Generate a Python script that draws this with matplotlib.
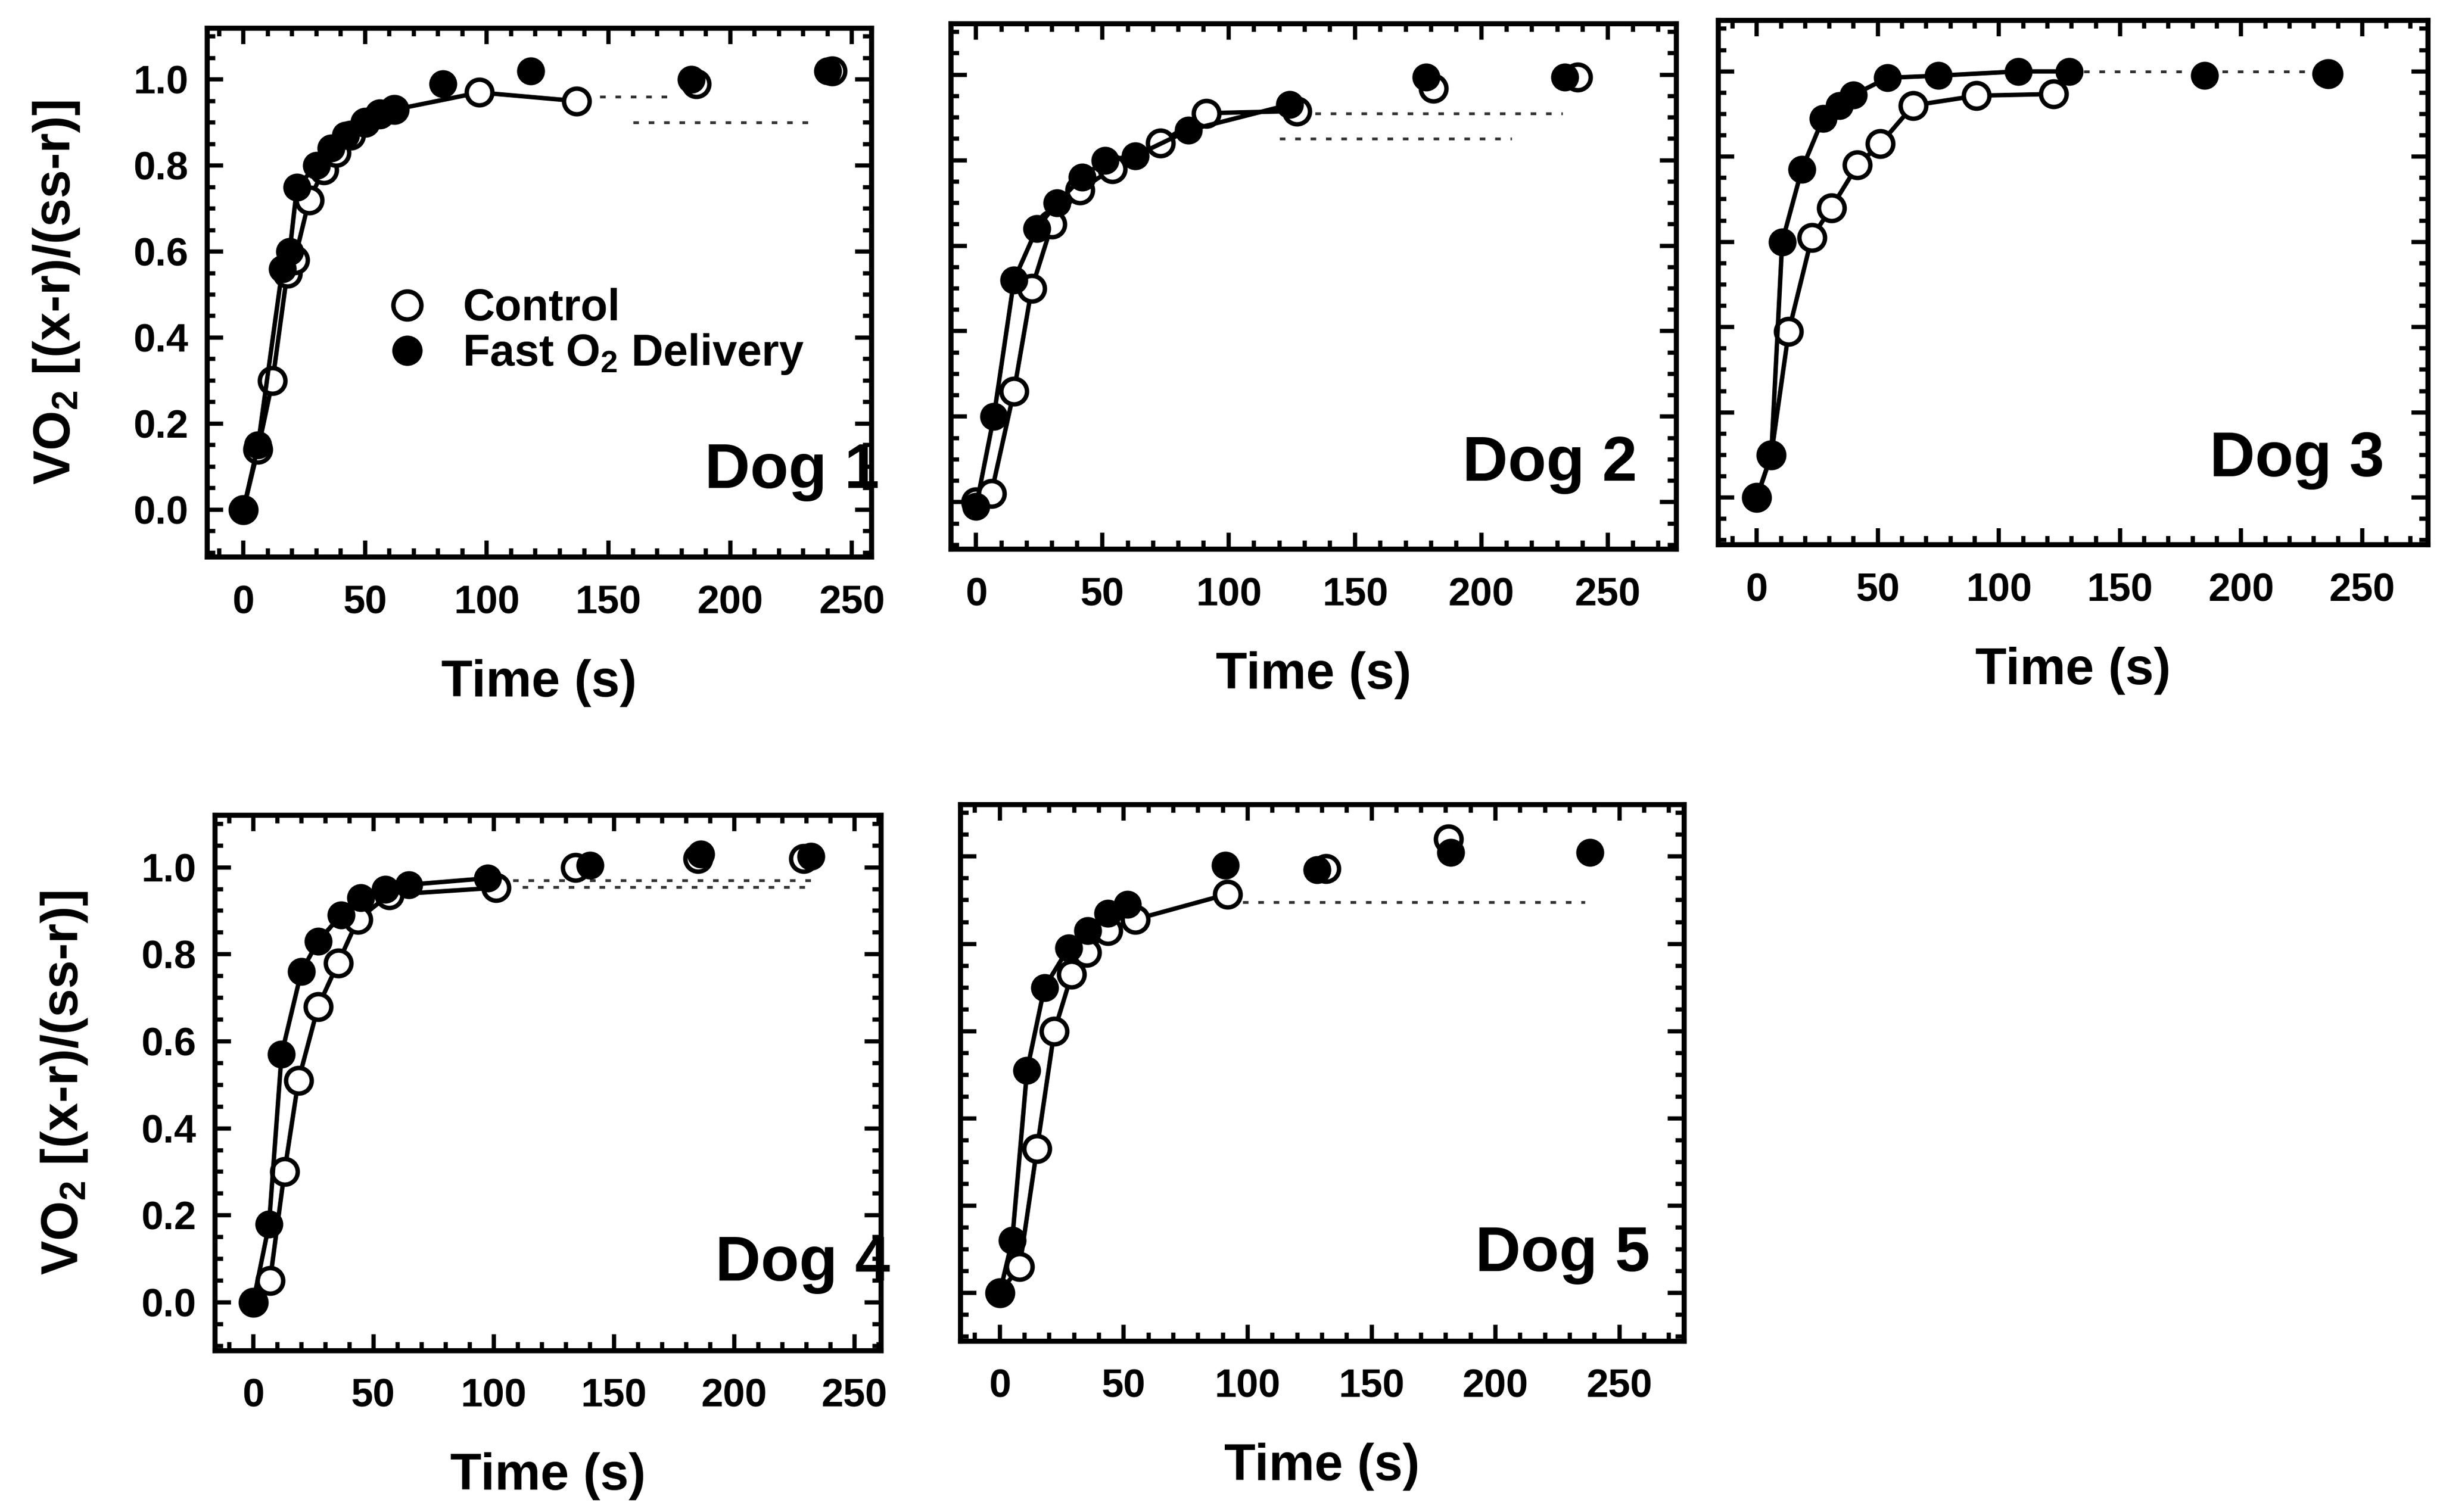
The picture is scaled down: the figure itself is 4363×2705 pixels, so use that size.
"""VO2 on-kinetics for five dogs: control vs fast O2 delivery."""

import matplotlib

matplotlib.use("Agg")
import matplotlib.pyplot as plt
from matplotlib.lines import Line2D
from matplotlib.ticker import MultipleLocator

plt.rcParams["font.family"] = ["Liberation Sans", "DejaVu Sans"]
plt.rcParams["font.weight"] = "bold"
plt.rcParams["mathtext.fontset"] = "custom"
plt.rcParams["mathtext.rm"] = "Liberation Sans:bold"
plt.rcParams["mathtext.it"] = "Liberation Sans:bold"
plt.rcParams["mathtext.bf"] = "Liberation Sans:bold"

DOG_NAMES = ["Dog 1", "Dog 2", "Dog 3", "Dog 4", "Dog 5"]

# Fast O2 delivery, points joined by the line
FAST_T = [
    [0, 6, 16, 19, 22, 30, 36, 42, 50, 56, 62],
    [0, 7, 15, 24, 32, 42, 51, 63, 84, 124],
    [0, 6, 10.5, 18.6, 27.4, 34, 40, 54, 75, 108, 129],
    [0, 6.6, 11.8, 20, 27, 36.5, 44.7, 55, 64.7, 97.6],
    [0, 5, 11, 18, 27.7, 35.4, 43.5, 51.6],
]
FAST_Y = [
    [0.0, 0.15, 0.56, 0.60, 0.75, 0.80, 0.84, 0.87, 0.90, 0.92, 0.93],
    [-0.01, 0.20, 0.52, 0.64, 0.70, 0.76, 0.80, 0.81, 0.87, 0.93],
    [0.0, 0.10, 0.60, 0.77, 0.89, 0.92, 0.945, 0.985, 0.99, 1.0, 1.0],
    [0.0, 0.18, 0.57, 0.76, 0.83, 0.89, 0.93, 0.95, 0.96, 0.975],
    [0.0, 0.12, 0.51, 0.70, 0.79, 0.83, 0.87, 0.89],
]
# Fast O2 delivery, isolated late points
FAST_LATE_T = [
    [82, 118, 184, 240],
    [178, 233],
    [185, 235],
    [140, 186, 232],
    [91, 128, 182, 238],
]
FAST_LATE_Y = [
    [0.99, 1.02, 1.00, 1.02],
    [0.995, 0.995],
    [0.99, 0.995],
    [1.005, 1.03, 1.025],
    [0.98, 0.97, 1.01, 1.01],
]
# Control, points joined by the line
CTRL_T = [
    [0, 6, 12, 18, 21, 27, 33, 38, 44, 50, 56, 62, 97, 137],
    [0, 6, 15, 22, 30, 41, 54, 73, 91, 127],
    [0, 6, 13.2, 22.7, 30.8, 41.6, 51, 64.6, 90.8, 122.6],
    [0, 7, 13, 18.8, 27, 35.3, 43.5, 56.5, 101],
    [0, 8, 15, 22, 29, 35, 43.5, 54.7, 92],
]
CTRL_Y = [
    [0.0, 0.14, 0.30, 0.55, 0.58, 0.72, 0.79, 0.83, 0.87, 0.90, 0.92, 0.93, 0.97, 0.95],
    [0.0, 0.02, 0.26, 0.50, 0.65, 0.73, 0.78, 0.84, 0.91, 0.915],
    [0.0, 0.10, 0.39, 0.61, 0.68, 0.78, 0.83, 0.92, 0.943, 0.947],
    [0.0, 0.05, 0.30, 0.51, 0.68, 0.78, 0.88, 0.937, 0.953],
    [0.0, 0.06, 0.33, 0.60, 0.73, 0.78, 0.83, 0.856, 0.914],
]
# Control, isolated late points
CTRL_LATE_T = [
    [186, 242],
    [181, 238],
    [236],
    [134, 185, 229],
    [131.6, 181],
]
CTRL_LATE_Y = [
    [0.99, 1.02],
    [0.968, 0.995],
    [0.995],
    [1.0, 1.02, 1.02],
    [0.973, 1.04],
]
# Faint dotted steady-state lines: level, start, end
DOTTED_Y = [[0.96, 0.90], [0.91, 0.85], [1.0], [0.97, 0.955], [0.895]]
DOTTED_T0 = [[140, 160], [128, 120], [135], [108, 112], [98]]
DOTTED_T1 = [[178, 232], [232, 212], [228], [232, 230], [236]]

X_TICKS = [0, 50, 100, 150, 200, 250]
Y_TICKS = [0.0, 0.2, 0.4, 0.6, 0.8, 1.0]

# layout
AX_RECTS = [
    (0.0848, 0.6317, 0.2723, 0.3498),
    (0.3897, 0.6368, 0.2972, 0.3477),
    (0.7041, 0.6399, 0.2908, 0.3467),
    (0.0880, 0.1070, 0.2730, 0.3539),
    (0.3935, 0.1132, 0.2966, 0.3549),
]
X_LIMS = [(-15, 258), (-10, 277), (-16, 277), (-16, 261), (-16, 276)]
SHOW_Y = [True, False, False, True, False]
DOG_X = [1.012, 0.946, 0.939, 1.014, 0.953]

MS = 11
LW = 1.9


def _style_axes(ax, xlim, show_y):
    ax.set_xlim(*xlim)
    ax.set_ylim(-0.11, 1.12)
    ax.set_xticks(X_TICKS)
    ax.set_yticks(Y_TICKS)
    ax.xaxis.set_minor_locator(MultipleLocator(10))
    ax.yaxis.set_minor_locator(MultipleLocator(0.05))
    ax.tick_params(which="both", direction="in", top=True, right=True, width=1.8)
    ax.tick_params(which="major", length=7)
    ax.tick_params(which="minor", length=3.5)
    ax.tick_params(axis="x", which="major", pad=12, labelsize=17)
    ax.tick_params(axis="y", which="major", pad=8, labelsize=17)
    ax.set_xticklabels([str(t) for t in X_TICKS], fontweight="bold")
    if show_y:
        ax.set_yticklabels([f"{t:.1f}" for t in Y_TICKS], fontweight="bold")
        ax.set_ylabel(r"VO$_2$ [(x-r)/(ss-r)]", fontsize=22, fontweight="bold", labelpad=22)
    else:
        ax.set_yticklabels([])
    ax.set_xlabel("Time (s)", fontsize=22, fontweight="bold", labelpad=16)
    for sp in ax.spines.values():
        sp.set_linewidth(2.2)


def main():
    fig = plt.figure(figsize=(4363 / 300, 2705 / 300), dpi=300)
    for i, rect in enumerate(AX_RECTS):
        ax = fig.add_axes(rect)
        for y, t0, t1 in zip(DOTTED_Y[i], DOTTED_T0[i], DOTTED_T1[i]):
            ax.plot([t0, t1], [y, y], color="0.2", lw=1.2, ls=(0, (2, 3.5)), zorder=1)
        ax.plot(CTRL_T[i], CTRL_Y[i], color="black", lw=LW, marker="o", ms=MS,
                mfc="white", mec="black", mew=1.9, zorder=3)
        ax.plot(CTRL_LATE_T[i], CTRL_LATE_Y[i], ls="none", marker="o", ms=MS,
                mfc="white", mec="black", mew=1.9, zorder=3)
        ax.plot(FAST_T[i], FAST_Y[i], color="black", lw=LW, marker="o", ms=MS,
                mfc="black", mec="black", zorder=4)
        ax.plot(FAST_LATE_T[i], FAST_LATE_Y[i], ls="none", marker="o", ms=MS,
                mfc="black", mec="black", zorder=4)
        _style_axes(ax, X_LIMS[i], SHOW_Y[i])
        ax.text(DOG_X[i], 0.105, DOG_NAMES[i], transform=ax.transAxes, ha="right",
                va="bottom", fontsize=27, fontweight="bold", zorder=5)
        if i == 0:
            handles = [
                Line2D([], [], ls="none", marker="o", ms=MS + 1, mfc="white", mec="black", mew=1.9),
                Line2D([], [], ls="none", marker="o", ms=MS + 1, mfc="black", mec="black"),
            ]
            ax.legend(handles, ["Control", r"Fast O$_2$ Delivery"], loc="upper left",
                      bbox_to_anchor=(0.235, 0.55), frameon=False, handlelength=1.0,
                      handletextpad=0.75, labelspacing=0.05, borderpad=0.0,
                      prop={"size": 19, "weight": "bold"})
    fig.savefig("out.png", dpi=300)
    plt.close(fig)


if __name__ == "__main__":
    main()
